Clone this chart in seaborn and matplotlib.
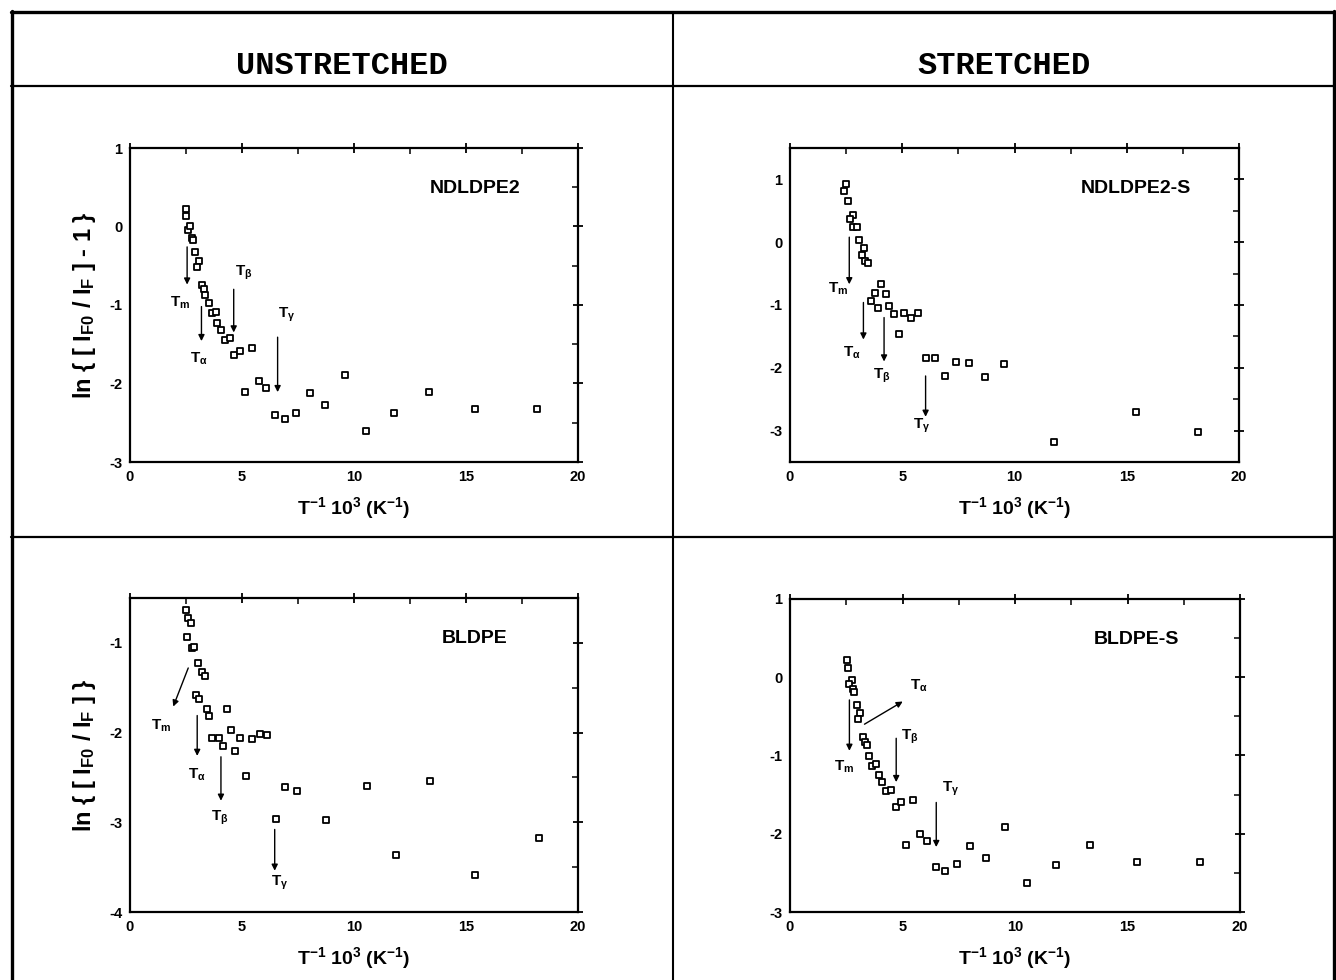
import numpy as np
import pandas as pd
import seaborn as sns
import matplotlib
matplotlib.use('Agg')
import matplotlib.pyplot as plt
from matplotlib.lines import Line2D
from matplotlib.ticker import MultipleLocator

# --- data: x = 1000/T (K^-1), y = ln(...) ---
ndldpe2_x = [2.48, 2.52, 2.58, 2.70, 2.78, 2.82, 2.92, 3.06, 2.97, 3.22, 3.30, 3.37,
             3.52, 3.64, 3.82, 3.89, 4.07, 4.26, 4.45, 4.66, 4.90, 5.45, 5.12, 5.75,
             6.09, 6.46, 6.90, 7.42, 8.02, 8.72, 9.58, 10.54, 11.80, 13.35, 15.40, 18.19]
ndldpe2_y = [0.22, 0.14, -0.04, 0.00, -0.15, -0.17, -0.32, -0.44, -0.51, -0.74, -0.80, -0.87,
             -0.98, -1.10, -1.09, -1.23, -1.32, -1.44, -1.42, -1.64, -1.59, -1.55, -2.11, -1.97,
             -2.06, -2.40, -2.45, -2.37, -2.12, -2.28, -1.89, -2.61, -2.37, -2.11, -2.33, -2.33]

ndldpe2s_x = [2.49, 2.40, 2.60, 2.79, 2.67, 2.79, 3.00, 3.09, 3.30, 3.19, 3.34, 3.49,
              3.61, 3.79, 3.90, 4.05, 4.26, 4.42, 4.63, 4.86, 5.09, 5.39, 5.72, 6.06,
              6.46, 6.90, 7.39, 7.99, 8.69, 9.55, 11.76, 15.40, 18.19]
ndldpe2s_y = [0.93, 0.82, 0.65, 0.43, 0.37, 0.24, 0.24, 0.04, -0.09, -0.21, -0.30, -0.33,
              -0.94, -0.81, -1.04, -0.66, -0.82, -1.02, -1.14, -1.46, -1.12, -1.20, -1.13, -1.85,
              -1.84, -2.13, -1.90, -1.92, -2.15, -1.94, -3.18, -2.70, -3.03]

bldpe_x = [2.49, 2.60, 2.72, 2.56, 2.78, 2.86, 3.05, 3.23, 3.35, 2.94, 3.09, 3.42,
           3.53, 3.67, 3.98, 4.13, 4.31, 4.53, 4.68, 4.93, 5.20, 5.46, 5.79, 6.12,
           6.53, 6.93, 7.45, 8.77, 10.58, 11.86, 13.38, 15.42, 18.25]
bldpe_y = [-0.63, -0.72, -0.78, -0.93, -1.06, -1.05, -1.22, -1.33, -1.37, -1.58, -1.63, -1.74,
           -1.81, -2.06, -2.06, -2.15, -1.74, -1.97, -2.21, -2.06, -2.48, -2.07, -2.02, -2.03,
           -2.96, -2.61, -2.65, -2.97, -2.59, -3.37, -2.54, -3.59, -3.17]

bldpes_x = [2.52, 2.57, 2.76, 2.64, 2.79, 2.86, 2.97, 3.13, 3.04, 3.23, 3.34, 3.41,
            3.53, 3.65, 3.83, 3.95, 4.10, 4.27, 4.50, 4.69, 4.94, 5.46, 5.16, 5.76,
            6.10, 6.47, 6.91, 7.42, 8.01, 8.72, 9.57, 10.55, 11.81, 13.32, 15.40, 18.22]
bldpes_y = [0.22, 0.12, -0.03, -0.08, -0.15, -0.19, -0.35, -0.46, -0.53, -0.76, -0.83, -0.87,
            -1.01, -1.14, -1.11, -1.25, -1.34, -1.46, -1.44, -1.66, -1.60, -1.57, -2.14, -2.00,
            -2.09, -2.43, -2.48, -2.39, -2.16, -2.31, -1.91, -2.63, -2.40, -2.15, -2.36, -2.36]

# transition arrows: (label, arrow tail, arrow head, label position)
ann_ndldpe2 = [(r'T$_m$', (2.55, -0.26), (2.55, -0.74), (2.26, -0.97)),
               (r'T$_\alpha$', (3.19, -1.02), (3.19, -1.46), (3.07, -1.68)),
               (r'T$_\beta$', (4.63, -0.80), (4.63, -1.35), (5.08, -0.59)),
               (r'T$_\gamma$', (6.59, -1.41), (6.59, -2.11), (7.00, -1.12))]
ann_ndldpe2s = [(r'T$_m$', (2.64, 0.08), (2.64, -0.67), (2.15, -0.74)),
                (r'T$_\alpha$', (3.27, -0.96), (3.27, -1.55), (2.75, -1.76)),
                (r'T$_\beta$', (4.19, -1.20), (4.19, -1.90), (4.08, -2.13)),
                (r'T$_\gamma$', (6.04, -2.13), (6.04, -2.78), (5.86, -2.93))]
ann_bldpe = [(r'T$_m$', (2.60, -1.28), (1.93, -1.71), (1.41, -1.93)),
             (r'T$_\alpha$', (3.00, -1.81), (3.00, -2.26), (2.97, -2.47)),
             (r'T$_\beta$', (4.06, -2.27), (4.06, -2.76), (4.01, -2.95)),
             (r'T$_\gamma$', (6.46, -3.08), (6.46, -3.54), (6.66, -3.68))]
ann_bldpes = [(r'T$_m$', (2.64, -0.29), (2.64, -0.94), (2.42, -1.14)),
              (r'T$_\alpha$', (3.31, -0.60), (5.01, -0.31), (5.73, -0.11)),
              (r'T$_\beta$', (4.72, -0.78), (4.72, -1.34), (5.34, -0.76)),
              (r'T$_\gamma$', (6.50, -1.60), (6.50, -2.17), (7.12, -1.42))]

sns.set_style('white')
plt.rcParams['font.family'] = ['Liberation Sans', 'DejaVu Sans']
plt.rcParams['mathtext.fontset'] = 'custom'
plt.rcParams['mathtext.rm'] = 'Liberation Sans:bold'
plt.rcParams['mathtext.it'] = 'Liberation Sans:bold'
plt.rcParams['mathtext.bf'] = 'Liberation Sans:bold'
plt.rcParams['axes.unicode_minus'] = False
plt.rcParams['text.color'] = 'black'
plt.rcParams['axes.labelcolor'] = 'black'
plt.rcParams['xtick.color'] = 'black'
plt.rcParams['ytick.color'] = 'black'

W, H = 1336, 980
fig = plt.figure(figsize=(W / 100, H / 100), dpi=100)


def box(l, t, r, b):
    return [l / W, 1 - b / H, (r - l) / W, (b - t) / H]


panels = [
    ('NDLDPE2', ndldpe2_x, ndldpe2_y, ann_ndldpe2, box(130, 148, 578, 462), (-3, 1),
     r'ln { [ I$_{F0}$ / I$_{F}$ ] - 1 }'),
    ('NDLDPE2-S', ndldpe2s_x, ndldpe2s_y, ann_ndldpe2s, box(790, 148, 1239, 462), (-3.5, 1.5), None),
    ('BLDPE', bldpe_x, bldpe_y, ann_bldpe, box(130, 598, 578, 912), (-4, -0.5),
     r'ln { [ I$_{F0}$ / I$_{F}$ ] }'),
    ('BLDPE-S', bldpes_x, bldpes_y, ann_bldpes, box(790, 599, 1240, 912), (-3, 1), None),
]

for name, xs, ys, anns, pos, ylim, ylab in panels:
    ax = fig.add_axes(pos)
    df = pd.DataFrame({'x': xs, 'y': ys})
    sns.scatterplot(data=df, x='x', y='y', ax=ax, marker='s', s=17,
                    facecolor='white', edgecolor='black', linewidth=1.3, zorder=3)
    ax.set_xlim(0, 20)
    ax.set_ylim(*ylim)
    ax.xaxis.set_major_locator(MultipleLocator(5))
    ax.xaxis.set_minor_locator(MultipleLocator(2.5))
    ax.yaxis.set_major_locator(MultipleLocator(1))
    ax.yaxis.set_minor_locator(MultipleLocator(0.5))
    ax.tick_params(which='major', direction='inout', length=7, width=1.3,
                   top=True, right=True, labelsize=10.5, pad=2)
    ax.tick_params(which='minor', direction='in', length=4, width=1.1, top=True, right=True)
    for lab in ax.get_xticklabels() + ax.get_yticklabels():
        lab.set_fontweight('bold')
    for sp in ax.spines.values():
        sp.set_linewidth(1.6)
        sp.set_color('black')
    ax.set_xlabel(r'T$^{-1}$ 10$^{3}$ (K$^{-1}$)', fontsize=14, fontweight='bold', labelpad=8)
    if ylab:
        ax.set_ylabel(ylab, fontsize=17, fontweight='bold', labelpad=8)
    else:
        ax.set_ylabel('')
    ax.text(0.77, 0.87, name, transform=ax.transAxes, ha='center', va='center',
            fontsize=14, fontweight='bold')
    for lab, tail, head, tpos in anns:
        ax.annotate('', xy=head, xytext=tail,
                    arrowprops=dict(arrowstyle='-|>', color='black', lw=1.0,
                                    mutation_scale=9, shrinkA=0, shrinkB=0))
        ax.text(tpos[0], tpos[1], lab, ha='center', va='center', fontsize=11,
                fontweight='bold')

# table frame around the panels
def hline(y, x0, x1, lw):
    fig.add_artist(Line2D([x0 / W, x1 / W], [1 - y / H, 1 - y / H], color='black', lw=lw))


def vline(x, y0, y1, lw):
    fig.add_artist(Line2D([x / W, x / W], [1 - y0 / H, 1 - y1 / H], color='black', lw=lw))


hline(12, 11, 1335, 2.4)
hline(86, 11, 1335, 1.6)
hline(537, 11, 1335, 1.6)
vline(12, 11, 980, 2.4)
vline(1334, 11, 980, 2.4)
vline(673, 12, 980, 1.5)

fig.text(342 / W, 1 - 66 / H, 'UNSTRETCHED', ha='center', va='center',
         family='Liberation Mono', fontweight='bold', fontsize=23)
fig.text(1004 / W, 1 - 66 / H, 'STRETCHED', ha='center', va='center',
         family='Liberation Mono', fontweight='bold', fontsize=23)

fig.savefig('out.png', dpi=100)
